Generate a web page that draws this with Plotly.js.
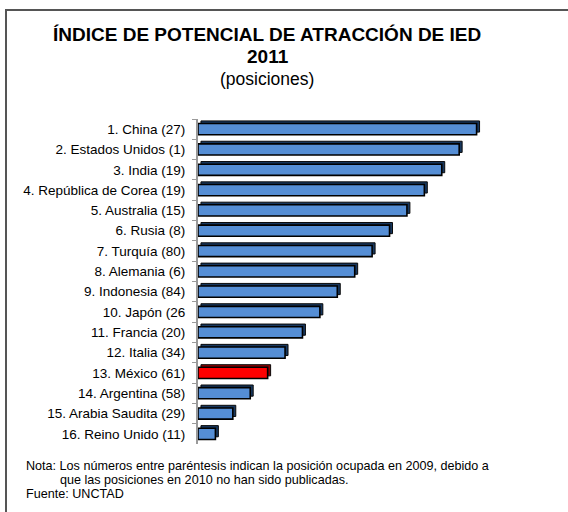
<!DOCTYPE html>
<html><head><meta charset="utf-8">
<script src="https://cdn.plot.ly/plotly-3.0.1.min.js"></script>
<style>
body{margin:0;background:#fff;}
#wrap{position:relative;width:568px;height:512px;overflow:hidden;}
#frame{position:absolute;left:5px;top:9px;width:600px;height:600px;border-top:2px solid #555;border-left:2px solid #555;pointer-events:none;z-index:5;}
#chart{position:absolute;left:0;top:0;width:568px;height:512px;}
</style></head>
<body><div id="wrap"><div id="chart"></div><div id="frame"></div></div>
<script>
const categories = ["1. China (27)","2. Estados Unidos (1)","3. India (19)","4. República de Corea (19)","5. Australia (15)","6. Rusia (8)","7. Turquía (80)","8. Alemania (6)","9. Indonesia (84)","10. Japón (26","11. Francia (20)","12. Italia (34)","13. México (61)","14. Argentina (58)","15. Arabia Saudita (29)","16. Reino Unido (11)"];
const values = [16,15,14,13,12,11,10,9,8,7,6,5,4,3,2,1];
const highlight = "13. México (61)";
const titleLines = ["ÍNDICE DE POTENCIAL DE ATRACCIÓN DE IED","2011","(posiciones)"];
const notes = ["Nota: Los números entre paréntesis indican la posición ocupada en 2009, debido a","que las posiciones en 2010 no han sido publicadas.","Fuente: UNCTAD"];

const L=198, T=119, W=296, H=325, WIDTH=568, HEIGHT=512;
const px=x=>(x-L)/W, py=y=>1-(y-T)/H;
const font="Arial, 'Liberation Sans', sans-serif";

const faceColors = categories.map(c=>c===highlight?'#FF0000':'#558ED5');
const backColors = categories.map(c=>c===highlight?'#8B0000':'#17375E');

const back = {type:'bar',orientation:'h',y:categories,x:values,base:0.17,width:0.55,offset:-0.275-0.13,
  marker:{color:backColors,line:{color:'#0a0a0a',width:1}},hoverinfo:'skip',showlegend:false};
const front = {type:'bar',orientation:'h',y:categories,x:values,width:0.55,
  marker:{color:faceColors,line:{color:'#000',width:1.6}},showlegend:false};

const ann = [
 {text:'<b>'+titleLines[0]+'</b>',x:px(267),y:py(35),font:{size:19,color:'#000',family:font}},
 {text:'<b>'+titleLines[1]+'</b>',x:px(268),y:py(57),font:{size:19,color:'#000',family:font}},
 {text:titleLines[2],x:px(267),y:py(79),font:{size:17.5,color:'#000',family:font}},
 {text:notes[0],x:px(25),y:py(466),xanchor:'left',font:{size:12.6,color:'#000',family:font}},
 {text:notes[1],x:px(59),y:py(480),xanchor:'left',font:{size:12.6,color:'#000',family:font}},
 {text:notes[2],x:px(25),y:py(494),xanchor:'left',font:{size:12.6,color:'#000',family:font}}
].map(a=>Object.assign({xref:'paper',yref:'paper',showarrow:false,xanchor:'center',yanchor:'middle',borderpad:0},a));

const layout = {
  width:WIDTH,height:HEIGHT,margin:{l:L,t:T,r:WIDTH-L-W,b:HEIGHT-T-H},
  paper_bgcolor:'#fff',plot_bgcolor:'#fff',barmode:'overlay',
  xaxis:{range:[0,17],showgrid:false,zeroline:false,showticklabels:false,ticks:'',showline:false},
  yaxis:{type:'category',autorange:'reversed',showgrid:false,zeroline:false,showline:true,linecolor:'#9a9a9a',linewidth:2,
    ticks:'outside',ticklen:4,tickcolor:'#9a9a9a',tickson:'boundaries',ticklabelstandoff:8,
    tickfont:{size:13.5,color:'#000',family:font}},
  annotations:ann,font:{family:font}
};
Plotly.newPlot('chart',[back,front],layout,{displayModeBar:false,staticPlot:true});
</script></body></html>
